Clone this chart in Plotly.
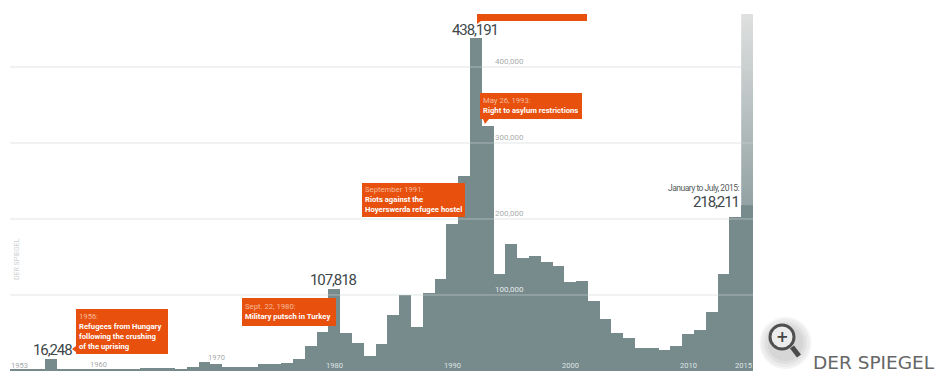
import plotly.graph_objects as go

W, H = 937, 372
PL, PR, PT, PB = 10, 753, 14, 371
YMAX = 469700

years = list(range(1953, 2016))
asylum = [1906, 2174, 1926, 16248, 3112, 2785, 2267, 2980, 2722, 2550, 3238, 4542, 4337, 4370, 2992,
          5608, 11664, 8645, 5388, 5289, 5595, 9424, 9627, 11123, 16410, 33136, 51493, 107818, 49391,
          37423, 19737, 35278, 73832, 99650, 57379, 103076, 121315, 193063, 256112, 438191, 322599,
          127210, 166951, 149193, 151700, 143429, 138319, 117648, 118306, 91471, 67848, 50152, 42908,
          30100, 30303, 28018, 33033, 48589, 53347, 77651, 127023, 202834, 218211]

grid_values = [100000, 200000, 300000, 400000]
grid_labels = ["100,000", "200,000", "300,000", "400,000"]
grid_label_colors = ["#e4e9e9", "#a9adad", "#a9adad", "#a9adad"]
year_labels = [1953, 1960, 1970, 1980, 1990, 2000, 2010, 2015]
year_label_colors = ["#a6aaaa", "#a6aaaa", "#a6aaaa", "#dfe5e5", "#dfe5e5", "#dfe5e5", "#dfe5e5", "#dfe5e5"]
year_label_py = [365, 364, 357, 365, 365, 365, 365, 365]
year_label_anchor = ["left", "center", "center", "center", "center", "center", "center", "right"]
year_label_shift = [-0.4, 0, 0, 0, 0, 0, 0, 0.4]

BAR = "#778a8c"
ORANGE = "#e8500e"
FONT = "Roboto, sans-serif"


def px(x):
    return (x - PL) / (PR - PL)


def py(y):
    return (PB - y) / (PB - PT)


fig = go.Figure()
fig.add_trace(go.Bar(x=years, y=asylum, marker=dict(color=BAR, line=dict(width=0)),
                     width=1.0, hoverinfo="skip"))
# faded top of the current-year column
fig.add_trace(go.Scatter(
    x=[2014.5, 2015.5, 2015.5, 2014.5, 2014.5],
    y=[asylum[-1], asylum[-1], YMAX, YMAX, asylum[-1]],
    mode="lines", line=dict(width=0), fill="toself",
    fillgradient=dict(type="vertical", colorscale=[[0, "#93a2a3"], [1, "#dfe0e0"]],
                      start=asylum[-1], stop=YMAX),
    hoverinfo="skip"))

shapes = []
for g in grid_values:
    shapes.append(dict(type="line", xref="paper", yref="y", x0=0, x1=1, y0=g, y1=g,
                       line=dict(color="rgba(205,214,214,0.6)", width=1), layer="above"))


def box(x0, y0, x1, y1, tip):
    if tip == "left":
        path = f"M{px(x0)},{py(y0)} L{px(x1)},{py(y0)} L{px(x1)},{py(y1)} L{px(x0)},{py(y1)} L{px(x0)},{py(y1-2)} L{px(x0-4)},{py(y1-5)} L{px(x0)},{py(y1-8)} Z"
    elif tip == "down":
        path = f"M{px(x0)},{py(y0)} L{px(x1)},{py(y0)} L{px(x1)},{py(y1)} L{px(x0+9)},{py(y1)} L{px(x0+5)},{py(y1+5)} L{px(x0+3)},{py(y1)} L{px(x0)},{py(y1)} Z"
    elif tip == "corner":
        path = f"M{px(x0)},{py(y0)} L{px(x1)},{py(y0)} L{px(x1)},{py(y1)} L{px(x0+4)},{py(y1)} L{px(x0)},{py(y1+3)} Z"
    else:
        path = f"M{px(x0)},{py(y0)} L{px(x1)},{py(y0)} L{px(x1)},{py(y1)} L{px(x0)},{py(y1)} Z"
    shapes.append(dict(type="path", xref="paper", yref="paper", path=path,
                       fillcolor=ORANGE, line=dict(width=0), layer="above"))


box(76, 309, 168, 354, "left")
box(242, 298, 336, 326, None)
box(362, 183, 465, 217, None)
box(480, 93, 582, 119, "down")
box(477, 14, 587, 21, "corner")

# magnifier icon
for r, c in [(26, "#f4f4f4"), (24, "#ebebeb"), (21, "#e0e0e0"), (18, "#d6d6d6")]:
    shapes.append(dict(type="circle", xref="paper", yref="paper",
                       x0=px(785.5 - r), x1=px(785.5 + r), y0=py(343 + r), y1=py(343 - r),
                       fillcolor=c, line=dict(width=0), layer="above"))
shapes.append(dict(type="line", xref="paper", yref="paper", x0=px(792), y0=py(347), x1=px(799), y1=py(356),
                   line=dict(color="#4a4a4a", width=5), layer="above"))
shapes.append(dict(type="circle", xref="paper", yref="paper", x0=px(770), x1=px(794), y0=py(349), y1=py(325),
                   fillcolor="#ececec", line=dict(color="#505050", width=3), layer="above"))

ann = []


def text(x, y, s, size, color, anchor="left", font=FONT, xref="paper", angle=0):
    ann.append(dict(x=x, y=py(y), xref=xref, yref="paper", text=s, showarrow=False, xanchor=anchor,
                    yanchor="middle", textangle=angle, align=anchor if anchor != "center" else "center",
                    font=dict(size=size, color=color, family=font), borderpad=0, borderwidth=0))


def tight(s, spacing):
    return f'<span style="letter-spacing:{spacing}px">{s}</span>'


# value labels
VAL = "#40484a"
text(px(72), 350, tight("16,248", -1.1), 15, VAL, "right")
text(px(333.5), 280, tight("107,818", -1.1), 15, VAL, "center")
text(px(475), 30, tight("438,191", -1.1), 15, VAL, "center")
text(px(739), 202, tight("218,211", -1.1), 15, VAL, "right")
text(px(739), 188, tight("January to July, 2015:", -0.5), 8.5, "#555b5c", "right")

LT = "#f6bc9c"
text(px(79), 331.5,
     f'<span style="color:{LT}">1956:</span><br><b>Refugees from Hungary<br>following the crushing<br>of the uprising</b>',
     7.7, "#ffffff")
text(px(245), 311.5, f'<span style="color:{LT}">Sept. 22, 1980:</span><br><b>Military putsch in Turkey</b>', 7.7, "#ffffff")
text(px(365), 200,
     f'<span style="color:{LT}">September 1991:</span><br><b>Riots against the<br>Hoyerswerda refugee hostel</b>',
     7.7, "#ffffff")
text(px(483), 105.5, f'<span style="color:{LT}">May 26, 1993:</span><br><b>Right to asylum restrictions</b>', 7.7, "#ffffff")

for g, s, c in zip(grid_values, grid_labels, grid_label_colors):
    text(px(510), (PB - g / YMAX * (PB - PT)) - 5, s, 8, c, "center")
for yr, c, yp, a, sh in zip(year_labels, year_label_colors, year_label_py, year_label_anchor, year_label_shift):
    text(yr + sh, yp, str(yr), 7.5, c, a, xref="x")

text(px(17), 259, "DER SPIEGEL", 7, "#cfd3d3", "center", angle=-90)

# page caption + icon glyph
text(px(782), 337, "<b>+</b>", 15, "#444444", "center", font="DejaVu Sans")
text(px(813), 362.5, "DER SPIEGEL", 18.5, "#666666", "left", font="DejaVu Sans")

fig.update_layout(
    width=W, height=H, showlegend=False, paper_bgcolor="white", plot_bgcolor="white",
    margin=dict(l=PL, r=W - PR, t=PT, b=H - PB, pad=0), bargap=0,
    xaxis=dict(range=[1952.5, 2015.5], visible=False, fixedrange=True),
    yaxis=dict(range=[0, YMAX], visible=False, fixedrange=True),
    shapes=shapes, annotations=ann,
)
fig.write_html("out.html", config={"displayModeBar": False},
               post_script="document.body.style.margin='0';document.body.style.overflow='hidden';")
